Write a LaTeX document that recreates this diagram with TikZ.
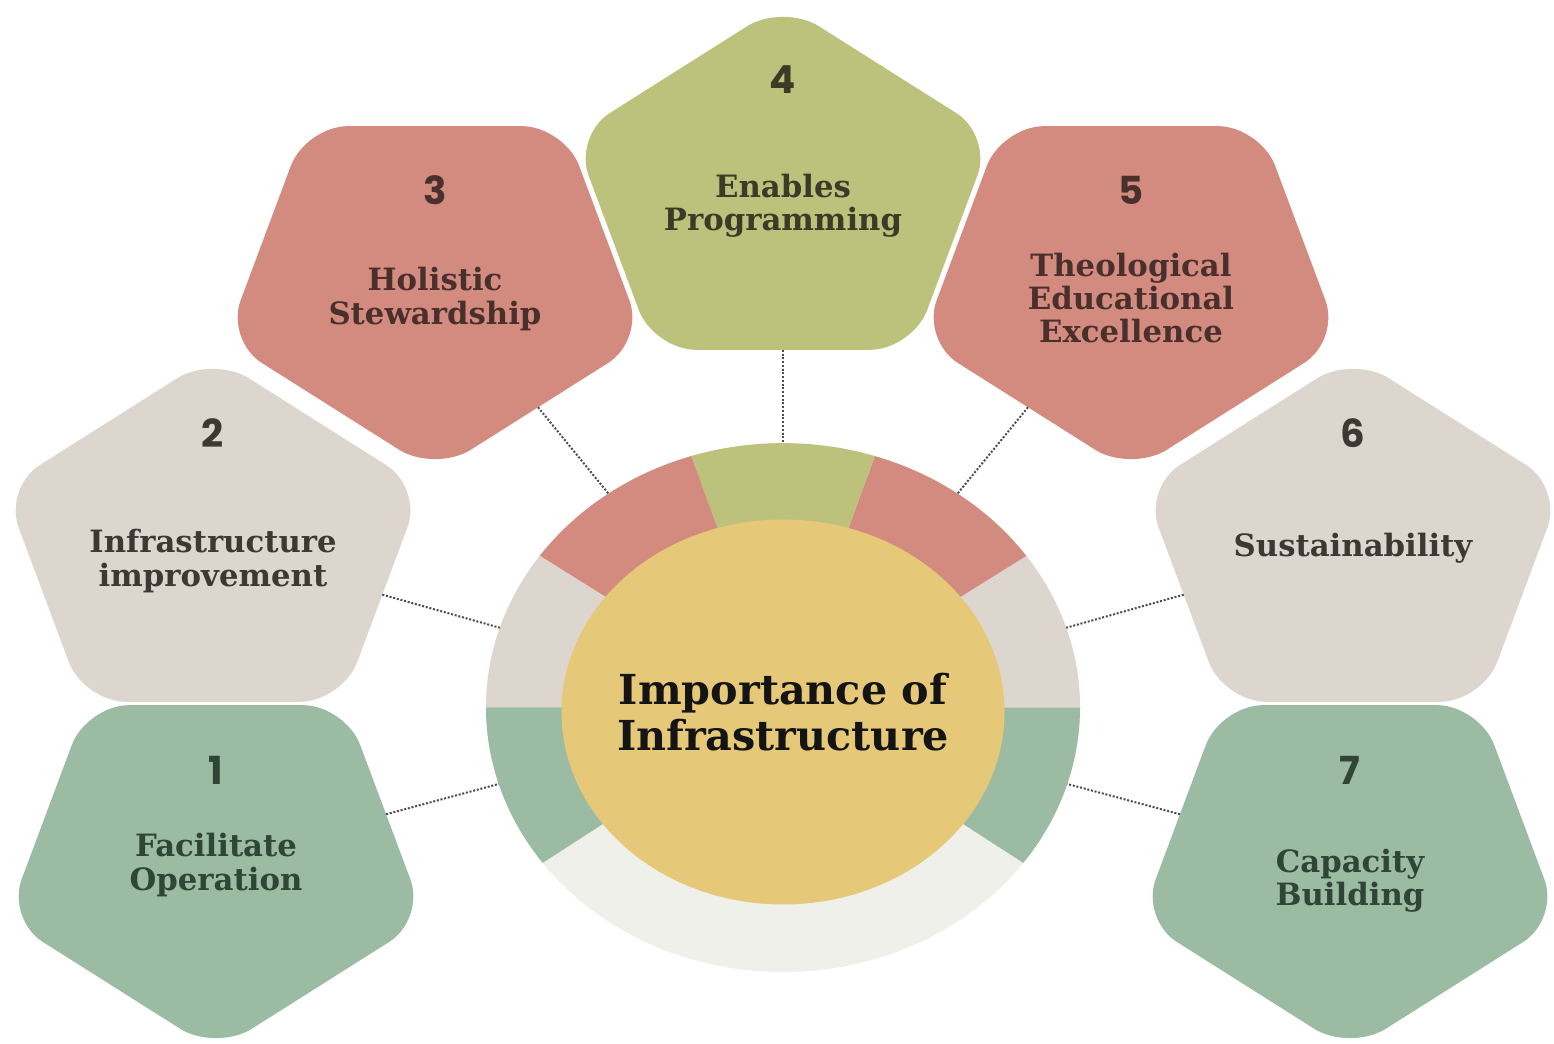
\documentclass[tikz,border=0pt]{standalone}
\usepackage{fontspec}
\setmainfont{DejaVu Serif}
\newfontfamily\numfont{Poppins}
\usetikzlibrary{shapes.geometric}

\definecolor{sage}{HTML}{9BBBA3}
\definecolor{sand}{HTML}{DDD6CE}
\definecolor{rose}{HTML}{D38B7F}
\definecolor{olive}{HTML}{BCC17B}
\definecolor{mustard}{HTML}{E5C979}
\definecolor{mist}{HTML}{EFF0E9}
\definecolor{sageink}{HTML}{2F4535}
\definecolor{sandink}{HTML}{3D3834}
\definecolor{roseink}{HTML}{4A302D}
\definecolor{oliveink}{HTML}{3A3C28}

\tikzset{
  penta/.style={regular polygon, regular polygon sides=5, minimum size=88mm,
    inner sep=0pt, outer sep=0pt, rounded corners=8.5mm, fill=#1,
    yscale=0.87, transform shape},
  pentadown/.style={penta=#1, shape border rotate=180},
  ring/.style={ellipse, minimum width=118.8mm, minimum height=105.8mm,
    inner sep=0pt, outer sep=0pt, fill=mist},
  core/.style={ellipse, minimum width=88.6mm, minimum height=77mm,
    inner sep=0pt, fill=mustard},
  num/.style={text=#1, font=\numfont\bfseries\fontsize{22}{24}\selectfont},
  lbl/.style={text=#1, align=center, font=\bfseries\fontsize{17.5}{19}\selectfont},
  link/.style={densely dotted, line width=0.4mm, draw=black!70},
}

\begin{document}
\begin{tikzpicture}[x=0.2mm,y=0.2mm]
\useasboundingbox (0,0) rectangle (1554,1044);

\node[pentadown=sage] (p1) at (216,184) {};
\node[penta=sand] (p2) at (213,497) {};
\node[pentadown=rose] (p3) at (435,763) {};
\node[penta=olive] (p4) at (783,849) {};
\node[pentadown=rose] (p5) at (1131,763) {};
\node[penta=sand] (p6) at (1353,497) {};
\node[pentadown=sage] (p7) at (1350,184) {};

\node[ring] (ring) at (783,336.5) {};
\begin{scope}[shift={(ring.center)},yscale=0.89]
\foreach \from/\to/\col in {-36/0/sage, 0/35/sand, 35/72/rose, 72/108/olive,
    108/145/rose, 145/180/sand, 180/216/sage}
  \fill[\col] (0,0) -- (\from:297) arc (\from:\to:297) -- cycle;
\end{scope}
\node[core] (core) at (783,332) {};
\node[align=center, text=black!92, font=\bfseries\fontsize{23.5}{26}\selectfont]
  (title) at (core) {Importance of\\Infrastructure};

\foreach \i in {1,...,7}
  \draw[link] (p\i) -- (ring);

\foreach \i/\dy/\ink in {1/90/sageink, 2/114/sandink, 3/91/roseink, 4/115/oliveink,
    5/91/roseink, 6/114/sandink, 7/90/sageink}
  \node[num=\ink] (n\i) at ([shift={(0,\dy)}]p\i.center) {\i};

\node[lbl=sageink] (t1) at ([shift={(0,-5)}]p1.center) {Facilitate\\Operation};
\node[lbl=sandink] (t2) at ([shift={(0,-14)}]p2.center) {Infrastructure\\improvement};
\node[lbl=roseink] (t3) at ([shift={(0,-18)}]p3.center) {Holistic\\Stewardship};
\node[lbl=oliveink] (t4) at ([shift={(0,-11)}]p4.center) {Enables\\Programming};
\node[lbl=roseink] (t5) at ([shift={(0,-17)}]p5.center) {Theological\\Educational\\Excellence};
\node[lbl=sandink] (t6) at ([shift={(0,-1)}]p6.center) {Sustainability};
\node[lbl=sageink] (t7) at ([shift={(0,-21)}]p7.center) {Capacity\\Building};

\end{tikzpicture}
\end{document}
